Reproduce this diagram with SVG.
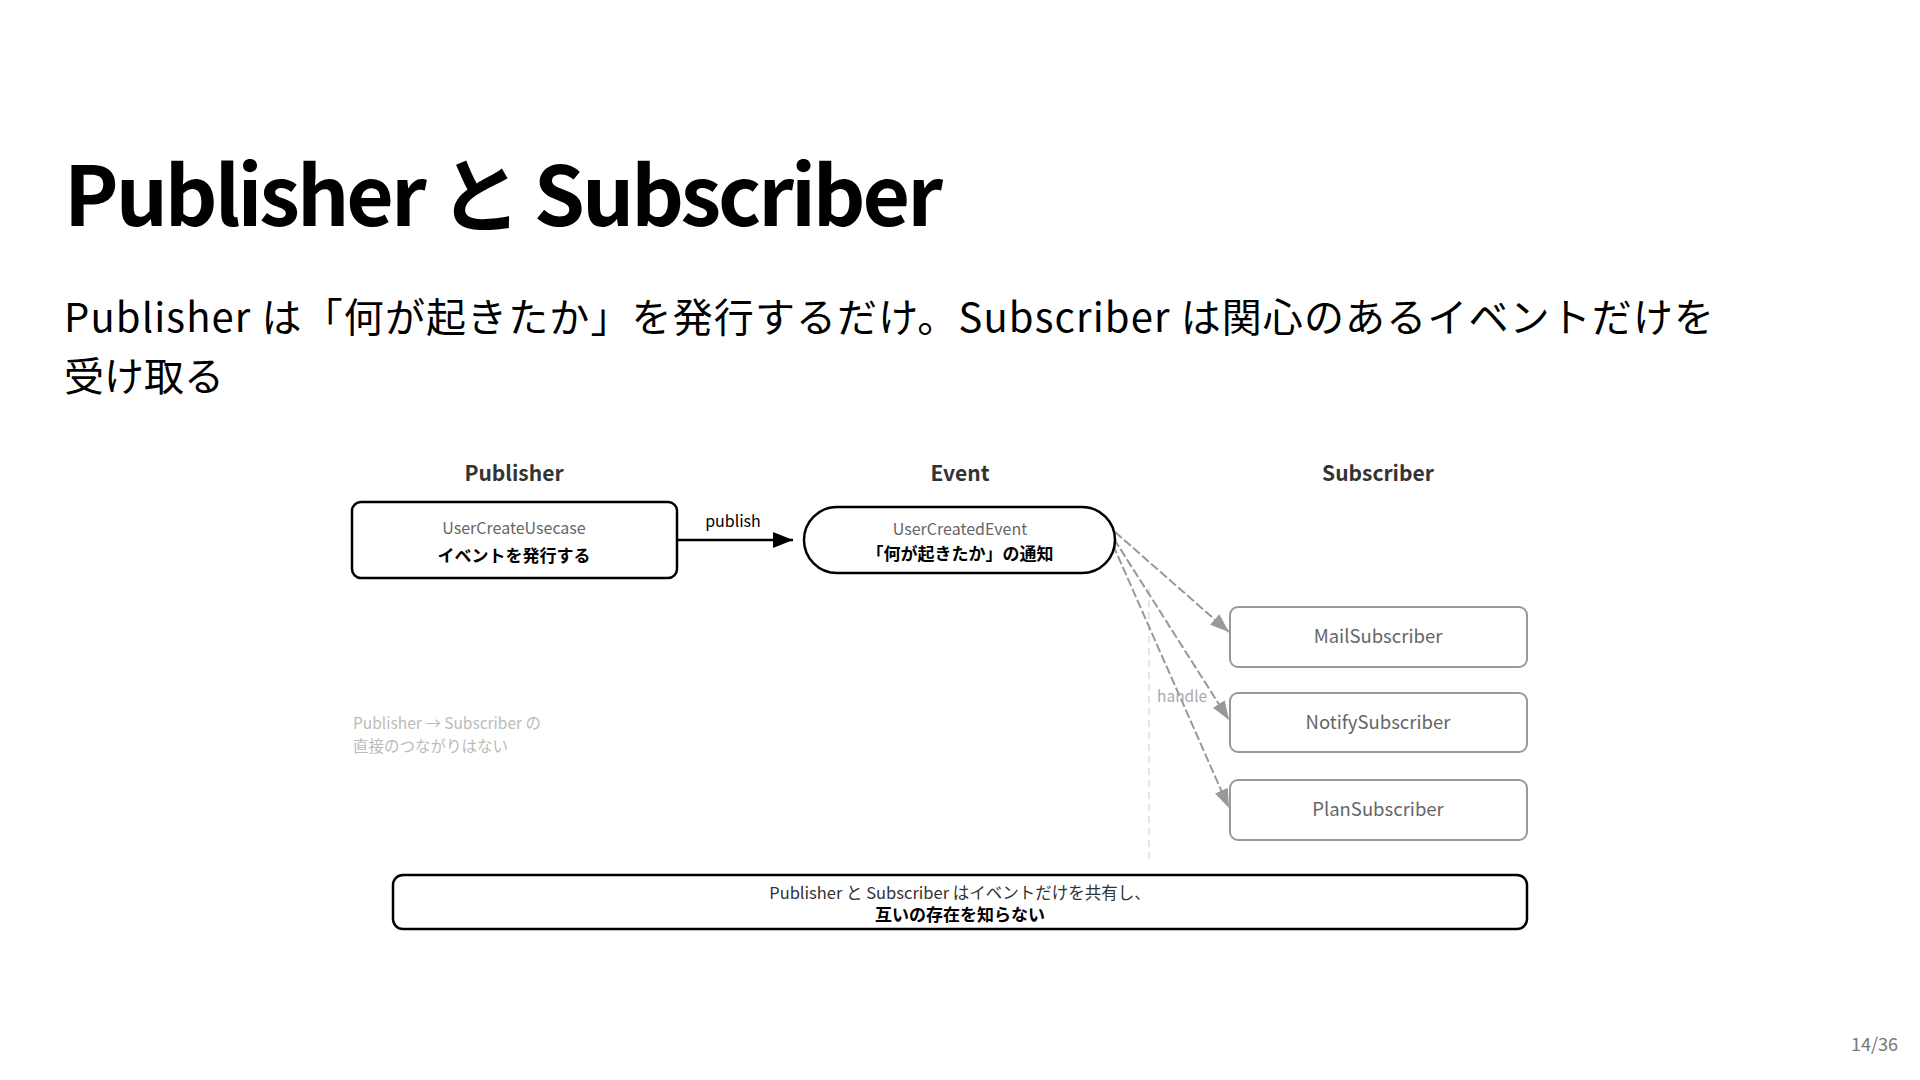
<svg xmlns="http://www.w3.org/2000/svg" width="1920" height="1080" viewBox="0 0 1920 1080">
<style>
text{font-family:"Noto Sans CJK JP","Noto Sans",sans-serif;}
.title{font-size:82px;font-weight:700;fill:#000;}
.sub{font-size:40px;fill:#000;}
.col{font-size:21px;font-weight:700;fill:#333;text-anchor:middle;}
.gray{font-size:16px;fill:#666;text-anchor:middle;}
.bold{font-size:17px;font-weight:700;fill:#000;text-anchor:middle;}
.box{fill:#fff;stroke:#000;stroke-width:2.5;}
.sbox{fill:#fff;stroke:#999;stroke-width:2;}
.stext{font-size:18.5px;fill:#666;text-anchor:middle;}
.note{font-size:15.5px;fill:#bbb;}
.conn{stroke:#999;stroke-width:2;fill:none;stroke-dasharray:9 3;}
</style>
<defs>
<marker id="ab" viewBox="0 0 10 10" refX="10" refY="5" markerWidth="20" markerHeight="16" markerUnits="userSpaceOnUse" orient="auto" preserveAspectRatio="none"><path d="M0,0 L10,5 L0,10 z" fill="#000"/></marker>
<marker id="ag" viewBox="0 0 10 10" refX="10" refY="5" markerWidth="19" markerHeight="14" markerUnits="userSpaceOnUse" orient="auto" preserveAspectRatio="none"><path d="M0,0 L10,5 L0,10 z" fill="#999"/></marker>
</defs>
<rect width="1920" height="1080" fill="#fff"/>
<text class="title" x="64" y="226" textLength="879">Publisher と Subscriber</text>
<text class="sub" x="64" y="332" textLength="1650">Publisher は「何が起きたか」を発行するだけ。Subscriber は関心のあるイベントだけを</text>
<text class="sub" x="64" y="391">受け取る</text>
<text class="col" x="514" y="481">Publisher</text>
<text class="col" x="960" y="481">Event</text>
<text class="col" x="1378" y="481">Subscriber</text>
<g id="guide">
<line x1="1149" y1="588" x2="1149" y2="864" stroke="#ddd" stroke-width="1.5" stroke-dasharray="7 5"/>
</g>
<g id="connectors">
<line x1="677" y1="540" x2="793" y2="540" stroke="#000" stroke-width="2.5" marker-end="url(#ab)"/>
<text x="733" y="527" font-size="16" fill="#000" text-anchor="middle">publish</text>
<line class="conn" x1="1115" y1="532" x2="1229" y2="632" marker-end="url(#ag)"/>
<line class="conn" x1="1114" y1="539" x2="1229" y2="720" marker-end="url(#ag)"/>
<line class="conn" x1="1113" y1="545" x2="1229" y2="808" marker-end="url(#ag)"/>
<text x="1157" y="702" font-size="15.5" fill="#aaa">handle</text>
</g>
<g id="publisher">
<rect class="box" x="352" y="502" width="325" height="76" rx="9"/>
<text class="gray" x="514" y="534">UserCreateUsecase</text>
<text class="bold" x="514" y="562">イベントを発行する</text>
</g>
<g id="event">
<rect class="box" x="804" y="507" width="311" height="66" rx="33"/>
<text class="gray" x="960" y="535">UserCreatedEvent</text>
<text class="bold" x="960" y="560">「何が起きたか」の通知</text>
</g>
<g id="mail">
<rect class="sbox" x="1230" y="607" width="297" height="60" rx="8"/>
<text class="stext" x="1378" y="643">MailSubscriber</text>
</g>
<g id="notify">
<rect class="sbox" x="1230" y="693" width="297" height="59" rx="8"/>
<text class="stext" x="1378" y="729">NotifySubscriber</text>
</g>
<g id="plan">
<rect class="sbox" x="1230" y="780" width="297" height="60" rx="8"/>
<text class="stext" x="1378" y="816">PlanSubscriber</text>
</g>
<g id="note">
<text class="note" x="353" y="729">Publisher → Subscriber の</text>
<text class="note" x="353" y="752">直接のつながりはない</text>
</g>
<g id="summary">
<rect class="box" x="393" y="875" width="1134" height="54" rx="10"/>
<text x="960" y="899" font-size="16.5" fill="#333" text-anchor="middle">Publisher と Subscriber はイベントだけを共有し、</text>
<text class="bold" x="960" y="921">互いの存在を知らない</text>
</g>
<text x="1898" y="1051" font-size="18" fill="#777" text-anchor="end">14/36</text>
</svg>
